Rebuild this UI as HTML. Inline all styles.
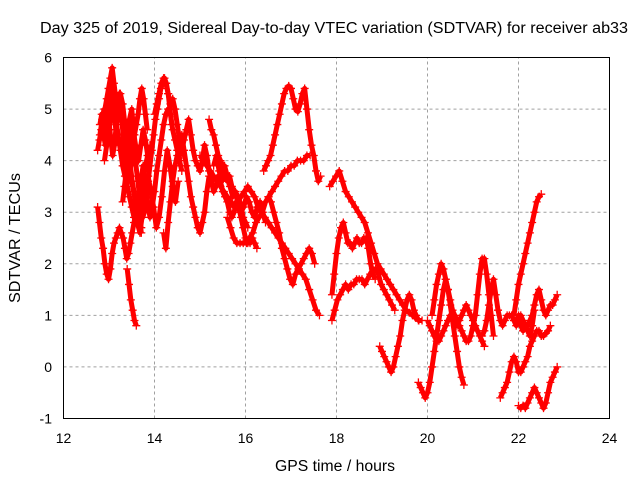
<!DOCTYPE html>
<html><head><meta charset="utf-8"><style>
body{margin:0;background:#fff;width:640px;height:480px;overflow:hidden}
svg{display:block;font-family:"Liberation Sans",sans-serif}
</style></head><body>
<svg id="chart" width="640" height="480" viewBox="0 0 640 480">
<rect width="640" height="480" fill="#fff"/>
<g id="grid"></g>
<g id="series"></g>
<rect x="63.5" y="57.5" width="546" height="361" fill="none" stroke="#000" stroke-width="1"/>
<g id="ticks" font-size="14" fill="#000"></g>
<text x="334" y="33" font-size="15.5" text-anchor="middle" textLength="588" lengthAdjust="spacingAndGlyphs">Day 325 of 2019, Sidereal Day-to-day VTEC variation (SDTVAR) for receiver ab33</text>
<text x="335" y="471" font-size="15.5" text-anchor="middle" textLength="120" lengthAdjust="spacingAndGlyphs">GPS time / hours</text>
<text x="0" y="0" font-size="15.5" text-anchor="middle" textLength="130" lengthAdjust="spacingAndGlyphs" transform="translate(20,238) rotate(-90)">SDTVAR / TECUs</text>
</svg>
<script>
const xTicks=[12,14,16,18,20,22,24];
const yTicks=[-1,0,1,2,3,4,5,6];
// tracks: [startHour, step, values...]
const trackA=[15.0,0.075,4.1,4.0,3.9,3.8,3.7,3.6,3.5,3.4,3.3,3.2,3.1,3.2,3.3,3.4,3.5,3.4,3.3,3.1,3.0,2.9,2.8,2.7,2.6,2.5,2.4,2.3,2.2,2.1,2.0,1.9,1.8,1.7,1.5,1.3,1.1,1.0];
const trackB=[15.6,0.07,2.9,2.7,2.5,2.4,2.4,2.4,2.4,2.5,2.6,2.8,2.9,3.0,3.2,3.3,3.4,3.5,3.6,3.7,3.8,3.8,3.9,3.9,4.0,4.0,4.0,4.1,4.1];
const trackC=[16.5,0.06,3.3,3.2,3.0,2.8,2.6,2.3,2.1,1.9,1.7,1.6,1.8,1.9,2.0,2.1,2.2,2.3,2.2,2.0];
const trackD=[16.4,0.05,3.8,3.9,4.0,4.1,4.3,4.5,4.7,4.9,5.1,5.3,5.4,5.45,5.4,5.2,5.0,4.95,5.1,5.3,5.4,5.0,4.6,4.3,4.1,3.8,3.6,3.7];
const trackE=[14.6,0.05,4.2,4.4,4.6,4.8,4.5,4.2,4.0,3.9,3.8,4.0,4.3,4.1,3.8,3.6,3.4,3.5,3.7,3.6,3.4,3.3,3.2,3.0,2.9,3.0,3.2,3.3,3.1,2.9,2.8,2.7];
const trackF=[15.2,0.05,4.8,4.6,4.5,4.3,4.1,4.0,3.9,3.7,3.6,3.7,3.5,3.4,3.3,3.1,2.9,2.7,2.5,2.4,2.4,2.5,2.4,2.3];
const trackG=[15.3,0.06,3.9,4.1,3.8,3.6,3.9,3.7,3.5,3.3,3.4,3.2,3.0,3.1,3.3,3.2,3.0,2.9,3.1,3.2,3.0,2.8];
const trackL1=[12.75,0.04,3.1,2.8,2.5,2.3,2.0,1.8,1.7,1.9,2.2,2.4,2.5,2.6,2.7,2.6,2.5,2.3,2.1,2.2,2.4,2.6,2.8,3.0,3.2,2.9,2.6];
const trackL2=[12.75,0.04,4.2,4.4,4.6,4.8,5.0,5.2,5.4,5.6,5.8,5.5,5.2,5.0,5.3,5.1,4.8,4.5,4.3,4.1,3.9,3.6,3.4,3.2,3.0,2.8,2.7];
const trackL3=[12.8,0.04,4.7,4.9,4.5,4.3,4.6,4.8,4.4,4.1,4.3,4.7,4.9,5.1,4.8,4.4,4.0,3.8,3.6,3.9,4.2,4.5,4.7,4.9,5.2,5.4,5.2,4.9,4.6];
const trackL4=[13.3,0.04,3.2,3.5,3.8,4.1,4.4,4.6,4.3,4.0,3.7,3.4,3.1,2.9,3.0,3.3,3.6,3.9,4.2,4.5,4.8,5.0,5.2,5.4,5.5,5.6,5.5,5.3,5.0,4.7];
const trackL5=[13.4,0.04,1.9,1.6,1.3,1.1,0.9,0.8];
const trackL6=[13.6,0.05,3.0,3.3,3.6,3.9,3.5,3.2,2.9,3.1,3.4,3.8,4.1,4.4,4.7,4.9,5.0,4.9,4.6,4.4,4.2,4.0,3.8];
const trackL7=[14.2,0.05,2.6,2.3,2.8,3.2,3.6,3.9,4.1,4.3,4.5,4.2,3.9,3.6,3.3,3.1,2.9,2.7,2.6,2.8,3.0,3.4,3.7];
const trackL8=[14.0,0.05,4.9,5.1,5.3,5.5,5.6,5.5,5.3,5.1,5.2,5.0,4.7,4.4,4.1];
const trackL9=[12.9,0.05,4.0,4.3,4.6,4.9,5.1,4.8,4.5,4.2,3.9,3.7,3.5,3.3,3.1,2.9,2.8,3.0,3.3,3.6,3.9,4.1,4.3];
const trackL10=[12.8,0.05,4.5,4.8,5.0,4.7,5.2,5.5,5.0,4.6,4.9,5.3,5.1,4.7,4.4,4.8,5.0,4.5,4.2,4.0,4.3,4.6,4.4,4.1];
const trackL11=[13.5,0.06,3.6,3.3,2.8,2.6,3.0,3.4,3.7,3.4,3.1,2.7,2.9,3.3,3.8,4.2,3.9,3.5,3.2,3.6];
const trackR1=[17.85,0.07,3.5,3.6,3.7,3.8,3.6,3.4,3.3,3.2,3.1,3.0,2.9,2.8,2.6,2.4,2.2,2.0,1.9,1.8,1.7,1.6,1.5,1.4,1.3,1.2,1.1,1.05,1.0,0.95,0.9,0.9];
const trackR2=[17.9,0.05,1.4,1.8,2.2,2.5,2.7,2.8,2.6,2.4,2.4,2.3,2.4,2.5,2.4,2.4,2.5,2.5,2.3,2.0,1.8,1.7];
const trackR3=[17.9,0.06,0.9,1.1,1.3,1.4,1.5,1.6,1.5,1.6,1.6,1.7,1.7,1.7,1.6,1.7,1.8,1.9,1.9,1.8,1.6,1.5,1.4,1.3,1.2,1.1];
const trackR4=[18.95,0.05,0.4,0.3,0.2,0.1,0.0,-0.1,0.0,0.2,0.4,0.6,0.9,1.1,1.3,1.4,1.3,1.1,1.0,0.9];
const trackR5=[19.8,0.05,-0.3,-0.4,-0.5,-0.6,-0.5,-0.3,0.0,0.3,0.6,0.9,1.2,1.5,1.7,1.5,1.2,0.9,0.6,0.3,0.0,-0.2,-0.35];
const trackR6=[20.1,0.05,1.0,1.3,1.6,1.8,2.0,1.9,1.7,1.5,1.3,1.1,1.0,0.9,0.8,0.7,0.6,0.5,0.5,0.6,0.8,1.0,1.4,1.8,2.1,2.1,1.8,1.4,1.0,0.6];
const trackR7=[20.0,0.05,0.9,0.8,0.7,0.6,0.5,0.5,0.6,0.7,0.8,0.9,1.0,0.9,0.8,0.8,0.9,1.0,1.1,1.2,1.1,1.0,0.9,0.8,0.7,0.6,0.5,0.4];
const trackR8=[21.2,0.05,0.6,0.7,0.9,1.2,1.5,1.7,1.4,1.1,0.9,0.8,0.9,1.0,1.0,1.0,0.9,0.9,1.0,1.0,0.9,0.8,0.7,0.6,0.8,1.1];
const trackR9=[21.9,0.05,1.0,1.3,1.6,1.8,2.0,2.2,2.4,2.6,2.8,3.0,3.2,3.3,3.35];
const trackR10=[21.9,0.05,0.9,0.8,0.9,0.8,0.7,0.8,0.8,0.9,1.0,1.2,1.4,1.5,1.3,1.1,1.0,1.1,1.2,1.2,1.3,1.4];
const trackR11=[21.6,0.05,-0.6,-0.5,-0.4,-0.3,-0.1,0.1,0.2,0.1,-0.1,-0.1,0.0,0.1,0.2,0.4,0.5,0.6,0.7,0.7,0.6,0.6,0.65,0.7,0.8];
const trackR12=[22.0,0.05,-0.75,-0.8,-0.75,-0.8,-0.7,-0.6,-0.5,-0.4,-0.5,-0.6,-0.7,-0.8,-0.7,-0.5,-0.3,-0.2,-0.1,0.0];
const tracks=[trackA,trackB,trackC,trackD,trackE,trackF,trackG,trackL1,trackL2,trackL3,trackL4,trackL5,trackL6,trackL7,trackL8,trackL9,trackL10,trackL11,trackR1,trackR2,trackR3,trackR4,trackR5,trackR6,trackR7,trackR8,trackR9,trackR10,trackR11,trackR12];

const X0=63.5,X1=609.5,Y0=418.5,Y1=57.5;
const sx=t=>X0+(t-12)/12*(X1-X0);
const sy=v=>Y0-(v+1)/7*(Y0-Y1);
const NS='http://www.w3.org/2000/svg';
const grid=document.getElementById('grid'),ticks=document.getElementById('ticks'),ser=document.getElementById('series');
xTicks.forEach(t=>{const x=sx(t);
 if(t>12&&t<24){const l=document.createElementNS(NS,'line');
 
 
 l.setAttribute('x1',x);l.setAttribute('x2',x);l.setAttribute('y1',Y0);l.setAttribute('y2',Y1);
 l.setAttribute('stroke','#a0a0a0');l.setAttribute('stroke-dasharray','3,3');grid.appendChild(l);}
 const tx=document.createElementNS(NS,'text');
 
 
 tx.setAttribute('x',x);tx.setAttribute('y',443);tx.setAttribute('text-anchor','middle');tx.textContent=t;ticks.appendChild(tx);});
yTicks.forEach(v=>{const y=sy(v);
 if(v>-1&&v<6){const l=document.createElementNS(NS,'line');
 
 
 l.setAttribute('x1',X0);l.setAttribute('x2',X1);l.setAttribute('y1',y);l.setAttribute('y2',y);
 l.setAttribute('stroke','#a0a0a0');l.setAttribute('stroke-dasharray','3,3');grid.appendChild(l);}
 const tx=document.createElementNS(NS,'text');
 
 
 tx.setAttribute('x',52);tx.setAttribute('y',y+5);tx.setAttribute('text-anchor','end');tx.textContent=v;ticks.appendChild(tx);});
tracks.forEach((tr,i)=>{let d='',pl='';const t0=tr[0],st=tr[1];
 for(let k=2;k<tr.length;k++){const x=sx(t0+(k-2)*st),y=sy(tr[k]);
  d+=`M${x-4},${y}h8M${x},${y-4}v8`;
  pl+=(k===2?'M':'L')+x+','+y;}
 const ln=document.createElementNS(NS,'path');
 
 
 ln.setAttribute('d',pl);ln.setAttribute('stroke','#ff0000');ln.setAttribute('stroke-width','5');ln.setAttribute('fill','none');ln.setAttribute('stroke-linejoin','round');
 ser.appendChild(ln);
 const p=document.createElementNS(NS,'path');
 
 
 p.setAttribute('d',d);p.setAttribute('stroke','#ff0000');p.setAttribute('stroke-width','1.3');p.setAttribute('fill','none');
 ser.appendChild(p);});
</script>
</body></html>
